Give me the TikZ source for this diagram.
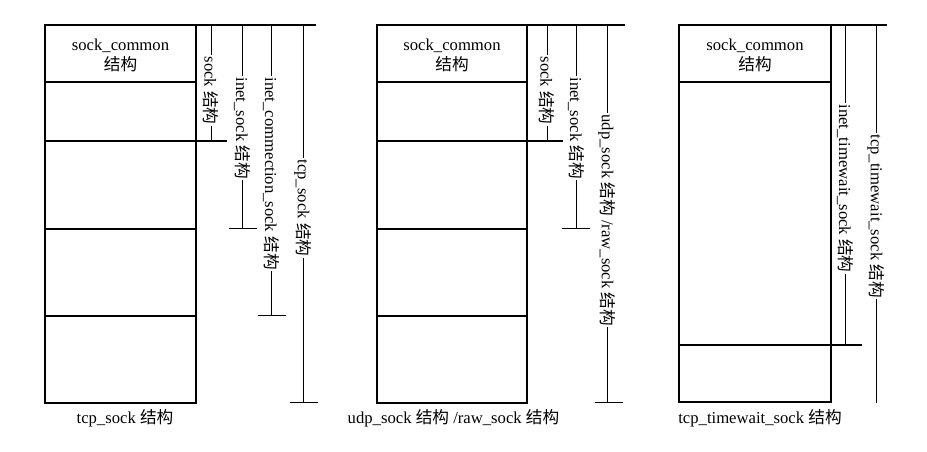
\documentclass[tikz,border=0pt]{standalone}
\usepackage{fontspec}
\setmainfont{Liberation Serif}
\newfontfamily\cjk{Noto Sans CJK SC}
\newcommand{\jg}{{\cjk 结构}}
\tikzset{
  blk/.style={draw, line width=1.1pt},
  brk/.style={line width=0.6pt},
  vlbl/.style={rotate=-90, anchor=west, fill=white, inner sep=1pt, font=\fontsize{12.5}{14}\selectfont},
  capt/.style={font=\fontsize{12.5}{14}\selectfont, inner sep=0pt},
  hdr/.style={align=center, font=\fontsize{12.5}{15}\selectfont, inner sep=0pt}
}
\begin{document}
\begin{tikzpicture}[x=0.75pt,y=-0.75pt]
  \path[use as bounding box] (0,0) rectangle (927,451);
  % tcp_sock
  \draw[blk] (45,25) rectangle (196,403);
  \foreach \y in {82,229,316} \draw[blk] (45,\y) -- (196,\y);
  \draw[blk] (45,141) -- (227,141);
  \draw[blk] (196,25) -- (316,25);
  \node[hdr] (tcpc) at (120.5,55) {sock\_common\\\jg};
  \node[capt] (tcpn) at (125,418) {tcp\_sock \jg};
  \coordinate (a1t) at (211,25); \coordinate (a1b) at (211,141);
  \coordinate (a2t) at (242,25); \coordinate (a2b) at (242,228);
  \coordinate (a3t) at (271,25); \coordinate (a3b) at (271,315);
  \coordinate (a4t) at (303,25); \coordinate (a4b) at (303,402);
  \draw[brk] (a1t) -- (a1b);
  \draw[brk] (a2t) -- (a2b) (229,228) -- (257,228);
  \draw[brk] (a3t) -- (a3b) (258,315) -- (286,315);
  \draw[brk] (a4t) -- (a4b) (290,402) -- (318,402);
  \node[vlbl] (a1l) at (211,55) {sock \jg};
  \node[vlbl] (a2l) at (242,76) {inet\_sock \jg};
  \node[vlbl] (a3l) at (271,76) {inet\_commection\_sock \jg};
  \node[vlbl] (a4l) at (303,158) {tcp\_sock \jg};
  % udp_sock / raw_sock
  \draw[blk] (377,25) rectangle (527,403);
  \foreach \y in {82,229,316} \draw[blk] (377,\y) -- (527,\y);
  \draw[blk] (377,141) -- (563,141);
  \draw[blk] (527,25) -- (625,25);
  \node[hdr] (udpc) at (452,55) {sock\_common\\\jg};
  \node[capt] (udpn) at (453.5,418) {udp\_sock \jg{} /raw\_sock \jg};
  \coordinate (b1t) at (547,25); \coordinate (b1b) at (547,141);
  \coordinate (b2t) at (576,25); \coordinate (b2b) at (576,228);
  \coordinate (b3t) at (607,25); \coordinate (b3b) at (607,402);
  \draw[brk] (b1t) -- (b1b);
  \draw[brk] (b2t) -- (b2b) (562,228) -- (590,228);
  \draw[brk] (b3t) -- (b3b) (595,402) -- (623,402);
  \node[vlbl] (b1l) at (547,55) {sock \jg};
  \node[vlbl] (b2l) at (576,76) {inet\_sock \jg};
  \node[vlbl] (b3l) at (607,113) {udp\_sock \jg{} /raw\_sock \jg};
  % tcp_timewait_sock
  \draw[blk] (679,25) rectangle (831,402);
  \draw[blk] (679,82) -- (831,82);
  \draw[blk] (679,345) -- (862,345);
  \draw[blk] (831,25) -- (887,25);
  \node[hdr] (twc) at (755,55) {sock\_common\\\jg};
  \node[capt] (twn) at (760,418) {tcp\_timewait\_sock \jg};
  \coordinate (c1t) at (845,25); \coordinate (c1b) at (845,345);
  \coordinate (c2t) at (876,25); \coordinate (c2b) at (876,403);
  \draw[brk] (c1t) -- (c1b);
  \draw[brk] (c2t) -- (c2b);
  \node[vlbl] (c1l) at (845,103) {inet\_timewait\_sock \jg};
  \node[vlbl] (c2l) at (876,133) {tcp\_timewait\_sock \jg};
\end{tikzpicture}
\end{document}
